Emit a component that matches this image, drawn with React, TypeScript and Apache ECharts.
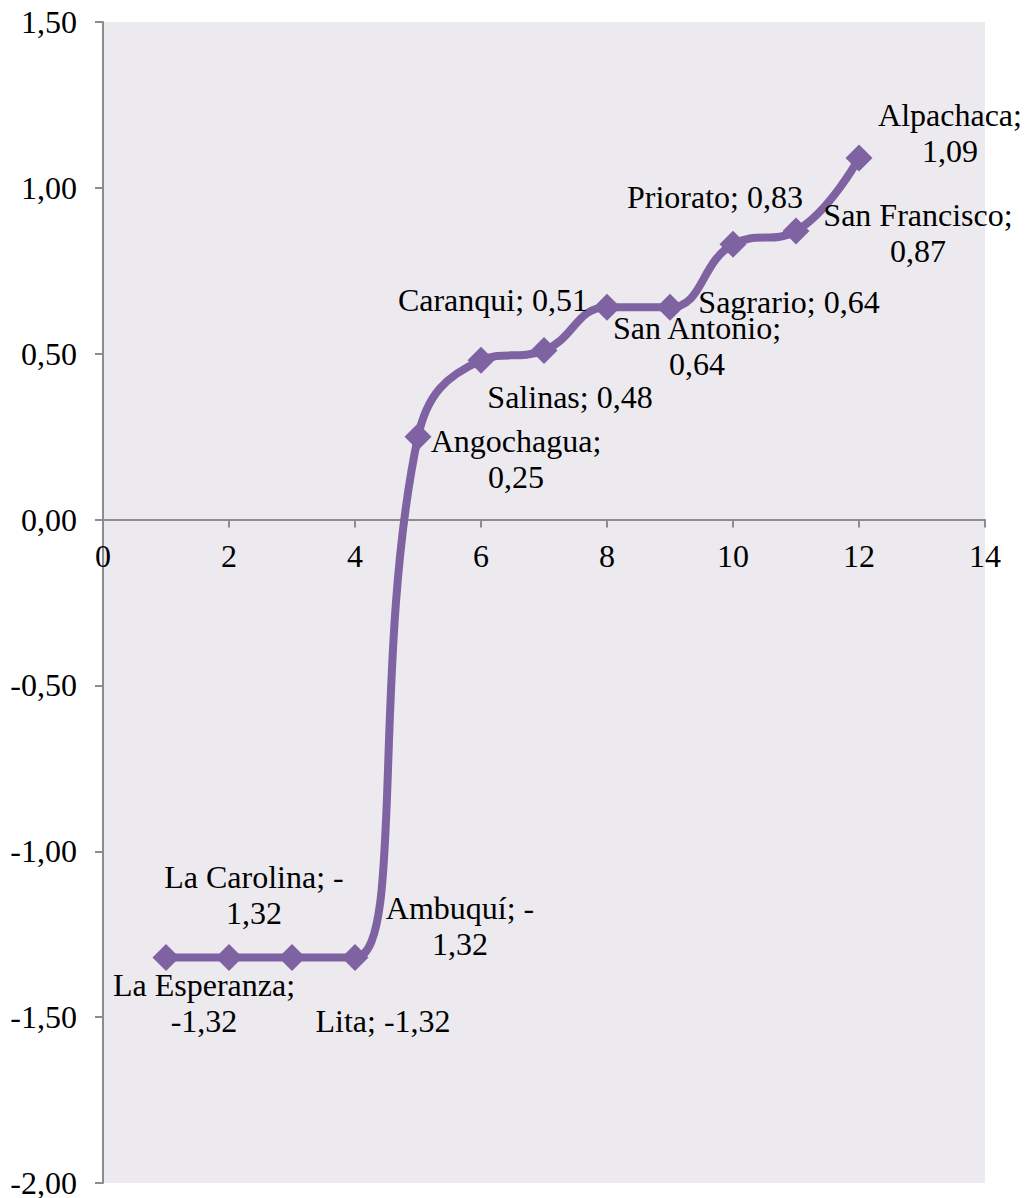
import React, { useEffect, useRef } from "react";
import * as echarts from "echarts";

const xValues = [1, 2, 3, 4, 5, 6, 7, 8, 9, 10, 11, 12];
const yValues = [-1.32, -1.32, -1.32, -1.32, 0.25, 0.48, 0.51, 0.64, 0.64, 0.83, 0.87, 1.09];
const labelTexts = [
  "La Esperanza;\n-1,32",
  "La Carolina; -\n1,32",
  "Lita; -1,32",
  "Ambuquí; -\n1,32",
  "Angochagua;\n0,25",
  "Salinas; 0,48",
  "Caranqui; 0,51",
  "San Antonio;\n0,64",
  "Sagrario; 0,64",
  "Priorato; 0,83",
  "San Francisco;\n0,87",
  "Alpachaca;\n1,09",
];

// layout: label offsets relative to each marker
const labelOffsets = [
  [38, 46], [25, -62], [91, 64], [105, -31], [98, 22], [89, 37],
  [-51, -50], [90, 39], [119, -5], [-18, -47], [122, 2], [91, -25],
];

const GRID_TOP = 22;
const GRID_BOTTOM = 15;
const H = 1198;
const Y_MIN = -2;
const Y_MAX = 1.5;
const FONT = "Liberation Serif";
const FS = 32;

export default function App() {
  const ref = useRef<HTMLDivElement>(null);
  useEffect(() => {
    document.body.style.margin = "0";
    const chart = echarts.init(ref.current!, null, { renderer: "svg" });
    const plotH = H - GRID_TOP - GRID_BOTTOM;
    const zeroFromBottom = ((0 - Y_MIN) / (Y_MAX - Y_MIN)) * plotH;
    const data = xValues.map((x, i) => ({
      value: [x, yValues[i]],
      label: {
        show: true,
        formatter: labelTexts[i],
        position: "inside",
        offset: labelOffsets[i],
        align: "center",
        verticalAlign: "middle",
      },
    }));
    chart.setOption({
      animation: false,
      textStyle: { fontFamily: FONT },
      grid: {
        left: 103,
        right: 42,
        top: GRID_TOP,
        bottom: GRID_BOTTOM,
        show: true,
        backgroundColor: "#ECEAEF",
        borderWidth: 0,
        containLabel: false,
        outerBoundsMode: "none",
      },
      xAxis: {
        type: "value",
        min: 0,
        max: 14,
        interval: 2,
        position: "bottom",
        offset: -zeroFromBottom,
        splitLine: { show: false },
        axisLine: { onZero: false, lineStyle: { color: "#8C8C8C", width: 2 } },
        axisTick: { show: true, length: 8, lineStyle: { color: "#8C8C8C", width: 2 } },
        axisLabel: { color: "#000", fontFamily: FONT, fontSize: FS, margin: 20 },
      },
      yAxis: {
        type: "value",
        min: Y_MIN,
        max: Y_MAX,
        interval: 0.5,
        splitLine: { show: false },
        axisLine: { show: true, onZero: false, lineStyle: { color: "#8C8C8C", width: 2 } },
        axisTick: { show: true, length: 8, lineStyle: { color: "#8C8C8C", width: 2 } },
        axisLabel: {
          color: "#000",
          fontFamily: FONT,
          fontSize: FS,
          margin: 26,
          formatter: (v: number) => v.toFixed(2).replace(".", ","),
        },
      },
      series: [
        {
          type: "line",
          data,
          smooth: 0.45,
          symbol: "diamond",
          symbolSize: 27,
          itemStyle: { color: "#7F62A1" },
          lineStyle: { color: "#7F62A1", width: 8 },
          label: {
            color: "#000",
            fontFamily: FONT,
            fontSize: FS,
            lineHeight: 36,
          },
        },
      ],
    });
    return () => chart.dispose();
  }, []);
  return <div ref={ref} style={{ width: 1027, height: 1198 }} />;
}
